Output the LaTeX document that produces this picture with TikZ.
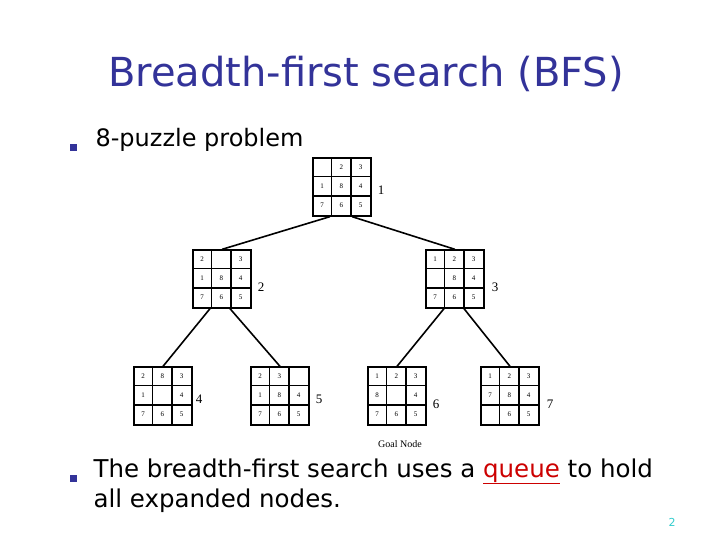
\documentclass[tikz,border=0pt]{standalone}
\usepackage{fontspec}
\setmainfont{DejaVu Sans}
\newfontfamily\serifp{Liberation Serif}
\definecolor{ttl}{HTML}{333399}
\definecolor{pg}{HTML}{33CCCC}
\tikzset{
 grid/.style={draw,line width=1.3pt,minimum size=58pt,inner sep=0pt},
 cellnum/.style={font=\serifp\fontsize{7}{7}\selectfont,inner sep=0pt},
 lab/.style={font=\serifp\fontsize{13}{13}\selectfont,inner sep=0pt},
 edge/.style={line width=1.6pt},
 bullet/.style={fill=ttl,minimum size=7pt,inner sep=0pt},
}
\newcommand{\puzzle}[4]{%
 \node[grid] (#1) at (#2,#3) {};
 \draw[line width=1.3pt] ($(#1.north west)+(19.33,0)$) -- ($(#1.south west)+(19.33,0)$)
   ($(#1.north west)+(38.67,0)$) -- ($(#1.south west)+(38.67,0)$)
   ($(#1.north west)+(0,19.33)$) -- ($(#1.north east)+(0,19.33)$)
   ($(#1.north west)+(0,38.67)$) -- ($(#1.north east)+(0,38.67)$);
 \foreach \v [count=\i from 0] in {#4} {
   \pgfmathtruncatemacro\cc{mod(\i,3)}\pgfmathtruncatemacro\rr{div(\i,3)}
   \node[cellnum] (#1-\i) at ($(#1.north west)+(9.67+19.33*\cc,9.67+19.33*\rr)$) {\v};}
}
\usetikzlibrary{calc}
\begin{document}
\begin{tikzpicture}[x=1pt,y=-1pt]
\useasboundingbox (0,0) rectangle (720,540);
\node[text=ttl,font=\fontsize{40}{40}\selectfont] (title) at (366,74) {Breadth-first search (BFS)};
\node[bullet] (b1) at (73,148) {};
\node[anchor=west,font=\fontsize{24}{24}\selectfont] (t1) at (92,140) {8-puzzle problem};
\puzzle{g1}{342}{187}{{},2,3,1,8,4,7,6,5}
\puzzle{g2}{222}{279}{2,{},3,1,8,4,7,6,5}
\puzzle{g3}{455}{279}{1,2,3,{},8,4,7,6,5}
\puzzle{g4}{163}{396}{2,8,3,1,{},4,7,6,5}
\puzzle{g5}{280}{396}{2,3,{},1,8,4,7,6,5}
\puzzle{g6}{397}{396}{1,2,3,8,{},4,7,6,5}
\puzzle{g7}{510}{396}{1,2,3,7,8,4,{},6,5}
\node[lab] (l1) at (381,190) {1};
\node[lab] (l2) at (261,287) {2};
\node[lab] (l3) at (495,287) {3};
\node[lab] (l4) at (199,399) {4};
\node[lab] (l5) at (319,399) {5};
\node[lab] (l6) at (436,404) {6};
\node[lab] (l7) at (550,404) {7};
\node[font=\serifp\fontsize{10}{10}\selectfont] (goal) at (400,444) {Goal Node};
\draw[edge] ($(g1.south)+(-12,0)$) -- (g2.north);
\draw[edge] ($(g1.south)+(10,0)$) -- (g3.north);
\draw[edge] ($(g2.south)+(-12,0)$) -- (g4.north);
\draw[edge] ($(g2.south)+(8,0)$) -- (g5.north);
\draw[edge] ($(g3.south)+(-11,0)$) -- (g6.north);
\draw[edge] ($(g3.south)+(9,0)$) -- (g7.north);
\node[bullet] (b2) at (73,478) {};
\node[anchor=north west,align=left,font=\fontsize{24.5}{30}\selectfont] (t2) at (90,455) {The breadth-first search uses a \textcolor{red!80!black}{\underline{queue}} to hold\\all expanded nodes.};
\node[text=pg,font=\fontsize{11}{11}\selectfont] (pn) at (672,522) {2};
\end{tikzpicture}
\end{document}
